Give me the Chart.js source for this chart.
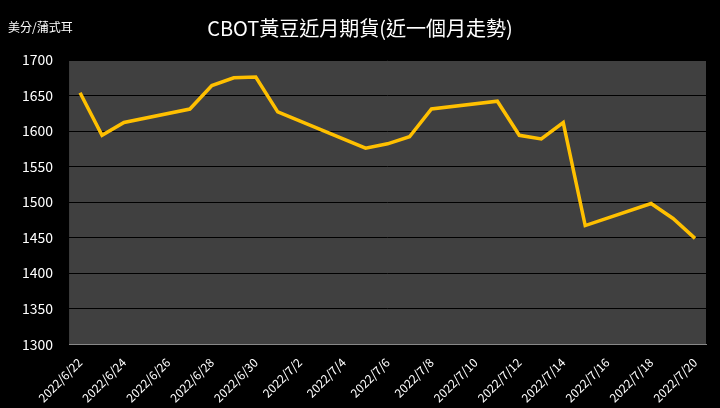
<!DOCTYPE html>
<html><head><meta charset="utf-8">
<script src="https://cdn.jsdelivr.net/npm/chart.js@4"></script>
<style>html,body{margin:0;background:#000;}#w{width:720px;height:408px;position:relative}</style>
</head><body><div id="w"><canvas id="c"></canvas></div>
<script>
const dates = [];
for (let d = 22; d <= 30; d++) dates.push('2022/6/' + d);
for (let d = 1; d <= 20; d++) dates.push('2022/7/' + d);
const priceByDate = {
 '2022/6/22':1654,'2022/6/23':1594,'2022/6/24':1612,'2022/6/27':1631,'2022/6/28':1664,
 '2022/6/29':1675,'2022/6/30':1676,'2022/7/1':1627,'2022/7/5':1576,'2022/7/6':1582,
 '2022/7/7':1592,'2022/7/8':1631,'2022/7/11':1642,'2022/7/12':1594,'2022/7/13':1589,
 '2022/7/14':1612,'2022/7/15':1467,'2022/7/18':1498,'2022/7/19':1477,'2022/7/20':1449
};
const values = dates.map(d => priceByDate[d] ?? null);
const title = 'CBOT黃豆近月期貨(近一個月走勢)';
const unit = '美分/蒲式耳';
const font = "'Noto Sans CJK TC','Noto Sans',sans-serif";
const bg = {id:'bg',beforeDraw(c){const a=c.chartArea,x=c.ctx;x.save();x.fillStyle='#000';x.fillRect(0,0,c.width,c.height);x.fillStyle='#404040';x.fillRect(a.left,a.top,a.right-a.left,a.bottom-a.top);x.restore();},
 afterDraw(c){const x=c.ctx;x.save();x.fillStyle='#fff';x.font='12px '+font;x.fillText(unit,8,32);x.restore();}};
new Chart(document.getElementById('c'),{
 type:'line',
 data:{labels:dates,datasets:[{data:values,borderColor:'#FFC000',borderWidth:3.5,pointRadius:0,spanGaps:true,tension:0}]},
 options:{responsive:true,maintainAspectRatio:false,animation:false,
  layout:{padding:{left:14,right:14,top:0,bottom:0}},
  plugins:{legend:{display:false},tooltip:{enabled:false},
   title:{display:true,text:title,color:'#fff',font:{family:font,size:20,weight:'normal'},padding:{top:16,bottom:20}}},
  scales:{
   x:{offset:true,grid:{display:false,drawOnChartArea:false},border:{color:'#888'},
      ticks:{color:'#fff',font:{family:font,size:12},maxRotation:45,minRotation:45,autoSkip:false,
        callback:(v,i)=> i%2===0 ? dates[i] : ''}},
   y:{min:1300,max:1700,grid:{color:'#000',lineWidth:1},border:{display:false},
      ticks:{stepSize:50,color:'#fff',font:{family:font,size:14},padding:8,callback:v=>String(v)}}
  }}, plugins:[bg]});
</script></body></html>
